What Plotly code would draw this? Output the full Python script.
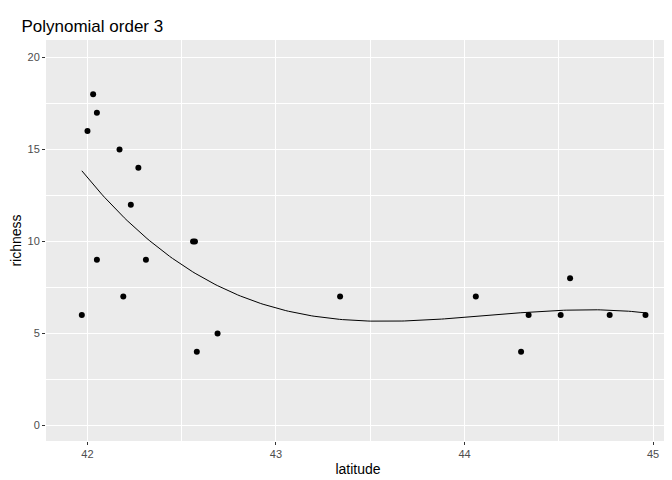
import numpy as np
import plotly.graph_objects as go

latitude = [41.97, 42.0, 42.03, 42.05, 42.05, 42.17, 42.19, 42.23, 42.27, 42.31, 42.56,
            42.57, 42.58, 42.69, 43.34, 44.06, 44.30, 44.34, 44.51, 44.56, 44.77, 44.96]
richness = [6, 16, 18, 17, 9, 15, 7, 12, 14, 9, 10, 10, 4, 5, 7, 7, 4, 6, 6, 8, 6, 6]

# cubic fit like geom_smooth(method="lm", formula=y ~ poly(x, 3))
coef = np.polyfit(latitude, richness, 3)
xs = np.linspace(min(latitude), max(latitude), 200)
ys = np.polyval(coef, xs)

fig = go.Figure()
fig.add_trace(go.Scatter(x=xs, y=ys, mode="lines", line=dict(color="black", width=1)))
fig.add_trace(go.Scatter(x=latitude, y=richness, mode="markers",
                         marker=dict(color="black", size=6)))

fig.update_layout(
    width=672, height=480, showlegend=False,
    paper_bgcolor="white", plot_bgcolor="#EBEBEB",
    margin=dict(l=38, r=10, t=32, b=47),
    title=dict(text="Polynomial order 3", x=0.02, xanchor="left", y=0.975,
               font=dict(family="Liberation Sans", size=17, color="black")),
    font=dict(family="Liberation Sans", size=11, color="#4D4D4D"),
)
fig.update_xaxes(range=[41.78, 45.09], tickvals=[42, 43, 44, 45], gridcolor="white",
                 gridwidth=1.3, zeroline=False, ticks="outside", ticklen=3, tickcolor="#333",
                 automargin=False,
                 minor=dict(tickvals=[42.5, 43.5, 44.5], gridcolor="white", gridwidth=0.6),
                 title=dict(text="latitude", font=dict(size=14, color="black"), standoff=4))
fig.update_yaxes(range=[-0.85, 20.95], tickvals=[0, 5, 10, 15, 20], gridcolor="white",
                 gridwidth=1.3, zeroline=False, ticks="outside", ticklen=3, tickcolor="#333",
                 automargin=False,
                 minor=dict(tickvals=[2.5, 7.5, 12.5, 17.5], gridcolor="white", gridwidth=0.6),
                 title=dict(text="richness", font=dict(size=14, color="black"), standoff=4))

fig.write_html("out.html")
